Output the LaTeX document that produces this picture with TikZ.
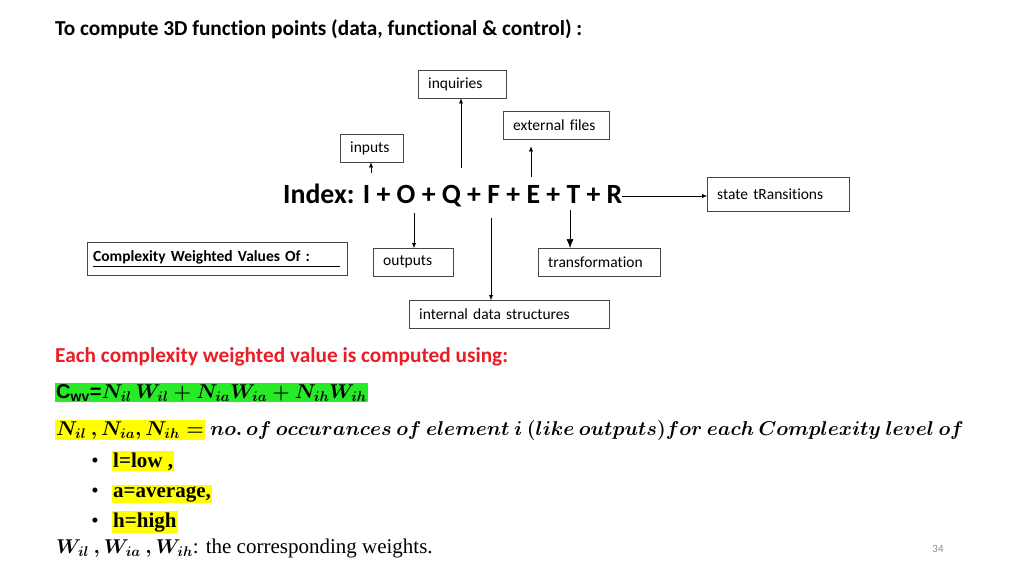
\RequirePackage{fix-cm}
\documentclass[tikz,border=0pt]{standalone}
\usepackage{amsmath}
\usepackage{fontspec}
\setmainfont{Carlito}[Ligatures=NoCommon]
\newfontfamily\serifbody{Liberation Serif}
\newfontfamily\arialbody{Liberation Sans}
\usetikzlibrary{arrows.meta}

\definecolor{boxline}{RGB}{70,70,70}
\definecolor{hlgreen}{RGB}{40,235,40}
\definecolor{hlyellow}{RGB}{255,255,0}
\definecolor{headred}{RGB}{235,28,36}
\definecolor{pagegray}{RGB}{140,140,140}

\begin{document}
\begin{tikzpicture}[x=1pt,y=-1pt,
      itembox/.style={draw=boxline, anchor=north west, minimum height=28pt,
        inner xsep=10pt, text width=#1, align=left,
        font=\fontsize{15.5}{18}\selectfont},
      arr/.style={-{Latex[length=5pt,width=4pt]}, thin},
      bigarr/.style={-{Latex[length=9pt,width=7pt]}, semithick},
      mathline/.style={anchor=base west, inner sep=1pt,
        font=\boldmath\fontsize{20}{24}\selectfont},
      bulletitem/.style={anchor=base west, inner sep=1pt, fill=hlyellow,
        font=\serifbody\bfseries\fontsize{21}{25}\selectfont}]

  \useasboundingbox (0,0) rectangle (1024,576);

  \node[anchor=base west, inner sep=0pt, font=\bfseries\fontsize{21.3}{25}\selectfont] (title)
    at (55,35) {To compute 3D function points (data, functional \& control) :};

  % the index and its parts
  \node[anchor=base west, inner sep=0pt, font=\bfseries\fontsize{27.8}{32}\selectfont] (index)
    at (283,203) {Index: I + O + Q + F + E + T + R};

  \node[itembox=68pt] (inquiries) at (418,70) {inquiries};
  \node[itembox=86pt] (extfiles) at (503,111) {external files};
  \node[itembox=43pt] (inputs) at (340,134) {inputs};
  \node[itembox=122pt, minimum height=34pt] (states) at (707,177) {state tRansitions};
  \node[itembox=60pt] (outputs) at (373,248) {outputs};
  \node[itembox=102pt] (transform) at (538,248) {transformation};
  \node[itembox=180pt] (internal) at (409,300) {internal data structures};
  \node[draw=boxline, anchor=north west, minimum height=33pt, inner xsep=6pt,
        text width=248pt, align=left, font=\bfseries\fontsize{15.5}{18}\selectfont]
    (cwvbox) at (87,242) {\underline{Complexity Weighted Values Of :\hspace{30pt}}};

  \coordinate (I-up) at (371,173);
  \coordinate (Q-up) at (461,168);
  \coordinate (E-up) at (531,177);
  \coordinate (R-right) at (622,196);
  \coordinate (O-down) at (414,213);
  \coordinate (F-down) at (491,218);
  \coordinate (T-down) at (570,210);

  \draw[arr] (I-up) -- (I-up |- inputs.south);
  \draw[arr] (Q-up) -- (Q-up |- inquiries.south);
  \draw[arr, shorten >=7pt] (E-up) -- (E-up |- extfiles.south);
  \draw[arr] (R-right) -- (R-right -| states.west);
  \draw[arr] (O-down) -- (O-down |- outputs.north);
  \draw[arr] (F-down) -- (F-down |- internal.north);
  \draw[bigarr] (T-down) -- (T-down |- transform.north);

  % how each value is computed
  \node[anchor=base west, inner sep=0pt, text=headred, font=\bfseries\fontsize{21.3}{25}\selectfont]
    (heading) at (55,362) {Each complexity weighted value is computed using:};

  \node[mathline, fill=hlgreen] (cwv) at (55,398)
    {{\arialbody\bfseries C\textsubscript{wv}=}$N_{il}\,W_{il}+N_{ia}W_{ia}+N_{ih}W_{ih}$};

  \node[mathline, fill=hlyellow] (nlist) at (55,435)
    {$N_{il}\ ,N_{ia},N_{ih}=$};
  \node[mathline, anchor=base west] (occur) at (nlist.base east)
    {$\,no.\,of\ occurances\ of\ element\ i\ (like\ outputs) for\ each\ Complexity\ level\ of$};

  \node[bulletitem] (low) at (112,467) {l=low ,};
  \node[bulletitem] (avg) at (112,497) {a=average,};
  \node[bulletitem] (high) at (112,527) {h=high};
  \node[anchor=base, font=\serifbody\fontsize{21}{25}\selectfont] at (95,467) {\textbullet};
  \node[anchor=base, font=\serifbody\fontsize{21}{25}\selectfont] at (95,497) {\textbullet};
  \node[anchor=base, font=\serifbody\fontsize{21}{25}\selectfont] at (95,527) {\textbullet};

  \node[mathline] (weights) at (55,553)
    {$W_{il}\ ,W_{ia}\ ,W_{ih}$\textmd{\unboldmath\serifbody\fontsize{21}{25}\selectfont: the corresponding weights.}};

  \node[text=pagegray, font=\fontsize{11}{13}\selectfont] (page) at (938,549) {34};
\end{tikzpicture}
\end{document}
